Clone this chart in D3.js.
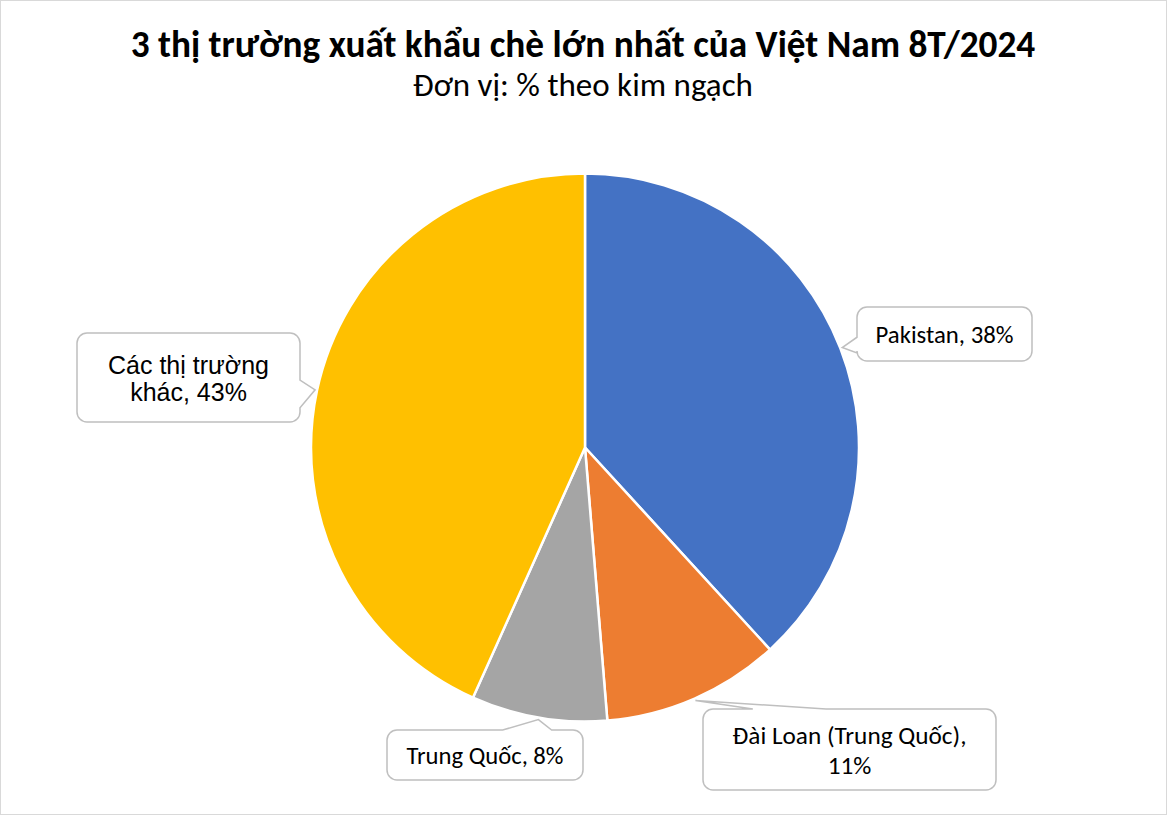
<!DOCTYPE html>
<html>
<head>
<meta charset="utf-8">
<script src="https://cdn.jsdelivr.net/npm/d3@7"></script>
<style>
  body { margin: 0; background: #fff; }
  svg { display: block; }
</style>
</head>
<body>
<div id="chart"></div>
<script>
// data (slice sizes, labels rounded)
const markets = ["Pakistan", "Đài Loan (Trung Quốc)", "Trung Quốc", "Các thị trường khác"];
const shares = [38.2, 10.5, 8.0, 43.3];
const colors = ["#4472C4", "#ED7D31", "#A5A5A5", "#FFC000"];
// how each label wraps inside its callout
const labelBreaks = [null, ", ", null, " khác"];

const width = 1168, height = 816;
const cx = 585, cy = 447.5, radius = 274;

const calibri = "Calibri, Carlito, Lato, sans-serif";
const arial = "'Liberation Sans', Arial, sans-serif";

// callout boxes: box, pointer edge, pointer base as fractions of that edge, target text width
const callouts = [
  { x: 857, y: 307, w: 175, h: 54, side: "left", b0: 0.56, b1: 0.85, font: calibri, fit: 138, lh: 30 },
  { x: 703, y: 709, w: 293, h: 81, side: "top", b0: 0.17, b1: 0.42, font: calibri, fit: 234, lh: 30 },
  { x: 387, y: 730, w: 196, h: 50, side: "top", b0: 0.59, b1: 0.84, font: calibri, fit: 157, lh: 30 },
  { x: 77, y: 333, w: 223, h: 89, side: "right", b0: 0.53, b1: 0.84, font: arial, fit: 161, lh: 27 }
];

const svg = d3.select("#chart").append("svg")
  .attr("width", width)
  .attr("height", height)
  .attr("viewBox", `0 0 ${width} ${height}`);

svg.append("rect")
  .attr("x", 0.5).attr("y", 0.5)
  .attr("width", width - 2).attr("height", height - 2)
  .attr("fill", "#fff")
  .attr("stroke", "#d9d9d9");

// scale a text's font size so its first line is as wide as in the reference
function fitText(sel, target) {
  const first = sel.select("tspan").node() || sel.node();
  const w = first.getComputedTextLength();
  const s = parseFloat(sel.style("font-size"));
  sel.style("font-size", (s * target / w).toFixed(2) + "px");
}

const title = svg.append("text")
  .attr("x", 583).attr("y", 57)
  .attr("text-anchor", "middle")
  .style("font-family", calibri)
  .style("font-weight", "bold")
  .style("font-size", "29px")
  .attr("fill", "#000")
  .text("3 thị trường xuất khẩu chè lớn nhất của Việt Nam 8T/2024");
fitText(title, 905);

const subtitle = svg.append("text")
  .attr("x", 583).attr("y", 96)
  .attr("text-anchor", "middle")
  .style("font-family", calibri)
  .style("font-size", "25px")
  .attr("fill", "#000")
  .text("Đơn vị: % theo kim ngạch");
fitText(subtitle, 340);

const pie = d3.pie().sort(null).value(d => d)(shares);
const arc = d3.arc().innerRadius(0).outerRadius(radius);

const g = svg.append("g").attr("transform", `translate(${cx},${cy})`);

g.selectAll("path.slice")
  .data(pie)
  .enter()
  .append("path")
  .attr("class", "slice")
  .attr("d", arc)
  .attr("fill", (d, i) => colors[i])
  .attr("stroke", "#fff")
  .attr("stroke-width", 2.5)
  .attr("stroke-linejoin", "round");

function calloutPath(c, tip) {
  const r = 10, x = c.x, y = c.y, w = c.x + c.w, h = c.y + c.h;
  const p = d3.path();
  p.moveTo(x + r, y);
  if (c.side === "top") {
    p.lineTo(x + c.w * c.b0, y);
    p.lineTo(tip[0], tip[1]);
    p.lineTo(x + c.w * c.b1, y);
  }
  p.lineTo(w - r, y);
  p.arcTo(w, y, w, y + r, r);
  if (c.side === "right") {
    p.lineTo(w, y + c.h * c.b0);
    p.lineTo(tip[0], tip[1]);
    p.lineTo(w, y + c.h * c.b1);
  }
  p.lineTo(w, h - r);
  p.arcTo(w, h, w - r, h, r);
  p.lineTo(x + r, h);
  p.arcTo(x, h, x, h - r, r);
  if (c.side === "left") {
    p.lineTo(x, y + c.h * c.b1);
    p.lineTo(tip[0], tip[1]);
    p.lineTo(x, y + c.h * c.b0);
  }
  p.lineTo(x, y + r);
  p.arcTo(x, y, x + r, y, r);
  p.closePath();
  return p.toString();
}

const tipArc = d3.arc().innerRadius(radius + 2).outerRadius(radius + 2);

pie.forEach((d, i) => {
  const c = callouts[i];
  const t = tipArc.centroid(d);
  const tip = [t[0] + cx, t[1] + cy];
  svg.append("path")
    .attr("d", calloutPath(c, tip))
    .attr("fill", "#fff")
    .attr("stroke", "#bfbfbf")
    .attr("stroke-width", 1.5);

  const full = `${markets[i]}, ${Math.round(d.data)}%`;
  let lines = [full];
  const br = labelBreaks[i];
  if (br) {
    const k = full.indexOf(br);
    const cut = br.startsWith(",") ? k + 1 : k;
    lines = [full.slice(0, cut).trim(), full.slice(cut).trim()];
  }
  const midY = c.y + c.h / 2;
  const txt = svg.append("text")
    .attr("text-anchor", "middle")
    .style("font-family", c.font)
    .style("font-size", "20px")
    .attr("fill", "#000");
  lines.forEach((l, k) => {
    txt.append("tspan")
      .attr("x", c.x + c.w / 2)
      .attr("y", midY + (k - (lines.length - 1) / 2) * c.lh)
      .attr("dy", "0.38em")
      .text(l);
  });
  fitText(txt, c.fit);
});
</script>
</body>
</html>
